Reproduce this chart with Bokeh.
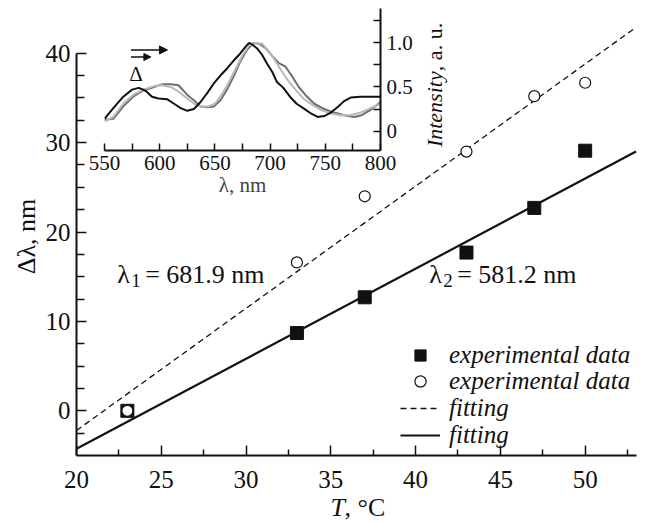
import math
from bokeh.plotting import figure
from bokeh.models import (Range1d, FixedTicker, Label, Legend, LegendItem, Arrow, NormalHead)
from bokeh.embed import file_html
from bokeh.resources import INLINE

FONT = "Liberation Serif"

# ---------------- main chart data ----------------
T_sq = [23, 33, 37, 43, 47, 50]
dl_sq = [0, 8.7, 12.7, 17.7, 22.7, 29.1]
T_ci = [23, 33, 37, 43, 47, 50]
dl_ci = [0, 16.6, 24.0, 29.0, 35.2, 36.7]
fit_T = [20, 53]
fit_dash = [-2.2, 42.9]
fit_solid = [-4.25, 29.0]
x_ticks = [20, 25, 30, 35, 40, 45, 50]
x_minor = [22.5, 27.5, 32.5, 37.5, 42.5, 47.5, 52.5]
y_ticks = [0, 10, 20, 30, 40]
y_minor = [-2.5, 2.5, 5, 7.5, 12.5, 15, 17.5, 22.5, 25, 27.5, 32.5, 35, 37.5]
legend_labels = ["experimental data", "experimental data", "fitting", "fitting"]

# ---------------- inset data ----------------
lam_black = [550, 558, 567, 575, 581, 585, 588, 593, 599, 607, 613, 619, 625, 631, 637, 643, 649, 655,
             661, 667, 673, 678, 681, 684, 688, 693, 697, 702, 706, 712, 718, 724, 730, 737, 743, 749,
             755, 761, 767, 773, 782, 791, 800]
int_black = [0.14, 0.26, 0.39, 0.47, 0.49, 0.47, 0.45, 0.39, 0.37, 0.36, 0.31, 0.26, 0.23, 0.25, 0.33,
             0.43, 0.54, 0.63, 0.71, 0.80, 0.88, 0.96, 1.00, 0.98, 0.94, 0.86, 0.77, 0.67, 0.56, 0.49,
             0.39, 0.31, 0.26, 0.20, 0.16, 0.17, 0.21, 0.27, 0.34, 0.38, 0.39, 0.39, 0.39]
lam_dark = [550, 558, 567, 576, 585, 595, 602, 610, 617, 625, 631, 637, 643, 649, 655, 661, 667, 673,
            679, 685, 690, 696, 702, 708, 714, 720, 726, 732, 740, 749, 758, 767, 776, 783, 791, 800]
int_dark = [0.13, 0.14, 0.28, 0.39, 0.46, 0.50, 0.53, 0.53, 0.52, 0.41, 0.35, 0.28, 0.27, 0.28, 0.35,
            0.47, 0.62, 0.79, 0.92, 1.00, 0.99, 0.94, 0.85, 0.77, 0.73, 0.62, 0.50, 0.41, 0.31, 0.25,
            0.21, 0.18, 0.16, 0.18, 0.24, 0.33]
lam_light = [550, 558, 567, 576, 585, 595, 602, 610, 617, 625, 631, 637, 644, 650, 656, 662, 669, 675,
             681, 687, 693, 699, 705, 711, 717, 723, 730, 738, 746, 755, 764, 773, 782, 791, 800]
int_light = [0.11, 0.16, 0.31, 0.41, 0.47, 0.51, 0.52, 0.50, 0.45, 0.37, 0.31, 0.28, 0.28, 0.31, 0.41,
             0.54, 0.71, 0.86, 0.97, 1.00, 0.99, 0.90, 0.79, 0.67, 0.56, 0.47, 0.37, 0.30, 0.24, 0.20,
             0.18, 0.18, 0.21, 0.26, 0.31]
ix_ticks = [550, 600, 650, 700, 750, 800]
ix_minor = [575, 625, 675, 725, 775]
iy_ticks = [0, 0.5, 1.0]
iy_minor = [0.25, 0.75, 1.25]
iy_labels = {0: "0", 0.5: "0.5", 1: "1.0"}

# ================= main figure =================
p = figure(width=640, height=500, x_range=Range1d(20, 53.5), y_range=Range1d(-5, 44),
           output_backend="svg", toolbar_location=None,
           min_border_left=68, min_border_right=4, min_border_top=9, min_border_bottom=53)
p.outline_line_color = None
p.grid.visible = False
p.styles = {"position": "absolute", "left": "8px", "top": "8px"}

for ax in (p.xaxis[0], p.yaxis[0]):
    ax.axis_line_width = 2
    ax.axis_line_color = "#111111"
    ax.major_tick_in = 10
    ax.major_tick_out = 0
    ax.minor_tick_out = 0
    ax.major_tick_line_width = 1.5
    ax.minor_tick_line_width = 1.5
    ax.major_tick_line_color = "#111111"
    ax.minor_tick_line_color = "#111111"
    ax.major_label_text_font = FONT
    ax.major_label_text_font_size = "25px"
    ax.major_label_text_color = "#111111"

p.xaxis.major_label_standoff = 15
p.yaxis.major_label_standoff = 6
p.xaxis.minor_tick_in = 6
p.yaxis.minor_tick_in = 8
p.xaxis.ticker = FixedTicker(ticks=x_ticks, minor_ticks=x_minor)
p.yaxis.ticker = FixedTicker(ticks=y_ticks, minor_ticks=y_minor)
p.xaxis.bounds = (20, 53)
p.yaxis.bounds = (-5, 40)
p.yaxis.axis_label = "Δλ, nm"
p.yaxis.axis_label_text_font = FONT
p.yaxis.axis_label_text_font_size = "26px"
p.yaxis.axis_label_text_font_style = "normal"
p.yaxis.axis_label_text_color = "#111111"
p.yaxis.axis_label_standoff = 2

r_dash = p.line(fit_T, fit_dash, line_color="#111111", line_width=1.3, line_dash="6 4")
r_solid = p.line(fit_T, fit_solid, line_color="#111111", line_width=2.2)
r_sq = p.scatter(T_sq, dl_sq, marker="square", size=13, fill_color="#111111", line_color="#111111")
r_ci = p.scatter(T_ci, dl_ci, marker="circle", size=11, fill_color="white", line_color="#111111",
                 line_width=1.2)

# one single-row legend per entry so the row pitch can match the reference
legend_y = [86, 60, 33, 6]
for lab, rend, ly in zip(legend_labels, [r_sq, r_ci, r_dash, r_solid], legend_y):
    p.add_layout(Legend(items=[LegendItem(label=lab, renderers=[rend])],
                        location=(324, ly), label_text_font=FONT, label_text_font_style="italic",
                        label_text_font_size="25px", label_text_color="#111111",
                        glyph_width=40, glyph_height=28, label_height=28, spacing=0, padding=0,
                        margin=0, label_standoff=9, border_line_alpha=0, background_fill_alpha=0))

# lambda annotations
for lx, sub, rest in [(22.4, "1", "= 681.9 nm"), (40.8, "2", "= 581.2 nm")]:
    p.add_layout(Label(x=lx, y=15.3, text="λ", text_font=FONT, text_font_size="26px",
                       text_baseline="middle", text_color="#111111"))
    p.add_layout(Label(x=lx, y=15.3, x_offset=14, y_offset=-6, text=sub, text_font=FONT,
                       text_font_size="19px", text_baseline="middle", text_color="#111111"))
    p.add_layout(Label(x=lx, y=15.3, x_offset=28, text=rest, text_font=FONT, text_font_size="26px",
                       text_baseline="middle", text_color="#111111"))

# inset's intensity axis title (drawn in the main figure's coordinates, behind the transparent inset)
p.add_layout(Label(x=41.1, y=29.5, text="Intensity", angle=math.pi / 2, text_align="left",
                   text_baseline="middle", text_font=FONT, text_font_style="italic",
                   text_font_size="22px", text_color="#111111"))
p.add_layout(Label(x=41.1, y=38.0, text=", a. u.", angle=math.pi / 2, text_align="left",
                   text_baseline="middle", text_font=FONT,
                   text_font_size="22px", text_color="#111111"))

# ================= x-axis title strip: italic T + ", °C" =================
pt = figure(width=120, height=58, x_range=Range1d(0, 120), y_range=Range1d(0, 58),
            output_backend="svg", toolbar_location=None, x_axis_location=None, y_axis_location=None,
            min_border_left=0, min_border_right=0, min_border_top=0, min_border_bottom=0)
pt.outline_line_color = None
pt.grid.visible = False
pt.background_fill_alpha = 0
pt.border_fill_alpha = 0
pt.styles = {"position": "absolute", "left": "320px", "top": "463px"}
pt.add_layout(Label(x=10, y=14.5, text="T", text_font=FONT, text_font_style="italic",
                    text_font_size="26px", text_baseline="middle", text_color="#111111"))
pt.add_layout(Label(x=24, y=14.5, text=", °C", text_font=FONT,
                    text_font_size="26px", text_baseline="middle", text_color="#111111"))

# ================= inset figure =================
pi_ = figure(width=368, height=200, x_range=Range1d(550, 800), y_range=Range1d(-0.22, 1.39),
             output_backend="svg", toolbar_location=None, y_axis_location="right",
             min_border_left=20, min_border_right=72, min_border_top=0, min_border_bottom=58)
pi_.background_fill_alpha = 0
pi_.border_fill_alpha = 0
pi_.outline_line_color = None
pi_.grid.visible = False
pi_.styles = {"position": "absolute", "left": "84px", "top": "8px"}

for ax in (pi_.xaxis[0], pi_.yaxis[0]):
    ax.axis_line_width = 2
    ax.axis_line_color = "#111111"
    ax.major_tick_in = 7
    ax.major_tick_out = 0
    ax.minor_tick_in = 7
    ax.minor_tick_out = 0
    ax.major_tick_line_width = 1.5
    ax.minor_tick_line_width = 1.5
    ax.major_tick_line_color = "#111111"
    ax.minor_tick_line_color = "#111111"
    ax.major_label_text_font = FONT
    ax.major_label_text_font_size = "21px"
    ax.major_label_text_color = "#111111"

pi_.xaxis.major_label_standoff = 5
pi_.yaxis.major_label_standoff = 6
pi_.xaxis.ticker = FixedTicker(ticks=ix_ticks, minor_ticks=ix_minor)
pi_.yaxis.ticker = FixedTicker(ticks=iy_ticks, minor_ticks=iy_minor)
pi_.yaxis.major_label_overrides = iy_labels
pi_.xaxis.axis_label = "λ, nm"
pi_.xaxis.axis_label_text_font = FONT
pi_.xaxis.axis_label_text_font_size = "21px"
pi_.xaxis.axis_label_text_font_style = "normal"
pi_.xaxis.axis_label_standoff = 0

pi_.line(lam_dark, int_dark, line_color="#6f6f6f", line_width=2)
pi_.line(lam_light, int_light, line_color="#b8b8b8", line_width=2)
pi_.line(lam_black, int_black, line_color="#111111", line_width=2)

pi_.add_layout(Arrow(end=NormalHead(size=8, fill_color="#111111", line_color="#111111"),
                     x_start=574, y_start=0.92, x_end=607, y_end=0.92,
                     line_width=1.5, line_color="#111111"))
pi_.add_layout(Arrow(end=NormalHead(size=7, fill_color="#111111", line_color="#111111"),
                     x_start=574, y_start=0.84, x_end=592, y_end=0.84,
                     line_width=1.5, line_color="#111111"))
pi_.add_layout(Label(x=578.6, y=0.65, text="Δ", text_align="center", text_baseline="middle",
                     text_font=FONT, text_font_size="21px", text_color="#111111"))

open("out.html", "w").write(file_html([p, pi_, pt], INLINE))
